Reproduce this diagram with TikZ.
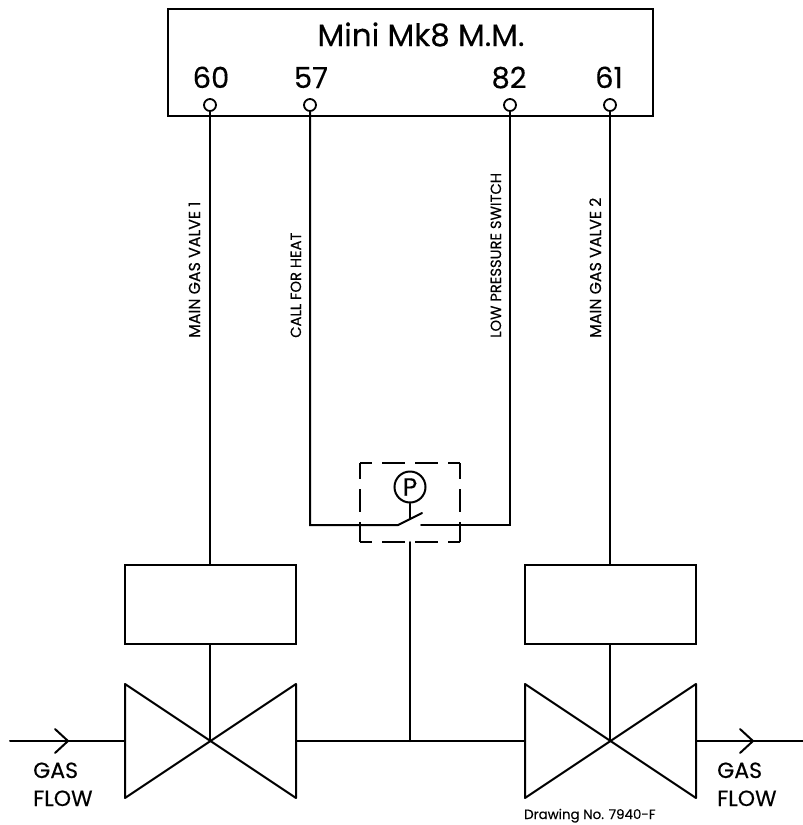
\documentclass[tikz,border=0pt]{standalone}
\usepackage{fontspec}
\setmainfont{Poppins}[FakeBold=0.3]
\tikzset{
  wire/.style={line width=2pt,line cap=round,line join=miter},
  box/.style={draw,line width=2pt,minimum width=171pt,minimum height=79pt,inner sep=0pt},
  term/.style={circle,draw,line width=1.8pt,fill=white,minimum size=12pt,inner sep=0pt},
  num/.style={font=\fontsize{29pt}{29pt}\selectfont,inner sep=0pt,anchor=base},
  vlabel/.style={font=\fontsize{14.7pt}{15pt}\selectfont,rotate=90,anchor=base west,inner sep=0pt},
  flow/.style={font=\fontsize{22pt}{22pt}\selectfont,inner sep=0pt,anchor=base west},
  dashside/.style={line width=2pt,dash pattern=on 23pt off 10pt}
}
\begin{document}
\begin{tikzpicture}[x=1pt,y=-1pt]
\useasboundingbox (0,0) rectangle (803,825);
% controller
\node[draw,line width=2pt,minimum width=485pt,minimum height=107pt,inner sep=0pt] (mm) at (410.5,62.5) {};
\node[font=\fontsize{31pt}{31pt}\selectfont,inner sep=0pt,anchor=base] (title) at (421,46) {Mini Mk8 M.M.};
\node[num] (n60) at (211,88) {60};
\node[num] (n57) at (311,88) {57};
\node[num] (n82) at (509,88) {82};
\node[num] (n61) at (609,88) {61};
\node[term] (t60) at (210,105) {};
\node[term] (t57) at (310,105) {};
\node[term] (t82) at (510,105) {};
\node[term] (t61) at (610,105) {};
% actuators and valve centres
\node[box] (actL) at (210.5,604.5) {};
\node[box] (actR) at (610.5,604.5) {};
\coordinate (vL) at (210,741);
\coordinate (vR) at (610,741);
\coordinate (tee) at (410,741);
\coordinate (swL) at (398,525);
\coordinate (swT) at (422,513);
\coordinate (swR) at (421,525);
\coordinate (swM) at (410,519);
\coordinate (inS) at (10,741);
\coordinate (outS) at (803,741);
% valves
\draw[wire,line join=round] (125,684) -- (296,798) -- (296,684) -- (125,798) -- cycle;
\draw[wire,line join=round] (525,684) -- (696,798) -- (696,684) -- (525,798) -- cycle;
% connectors
\draw[wire] (t60) -- (actL.north -| t60);
\draw[wire] (actL.south -| vL) -- (vL);
\draw[wire] (t61) -- (actR.north -| t61);
\draw[wire] (actR.south -| vR) -- (vR);
\draw[wire] (t57) |- (swL) -- (swT);
\draw[wire] (t82) |- (swR);
\draw[wire] (inS) -- (125,741);
\draw[wire] (296,741) -- (525,741);
\draw[wire] (696,741) -- (outS);
% arrows
\draw[wire] (55,729) -- (68,741) -- (55,753);
\draw[wire] (740,729) -- (753,741) -- (740,753);
% pressure switch
\node[circle,draw,line width=2pt,minimum size=31pt,inner sep=0pt,font=\fontsize{25pt}{25pt}\selectfont] (p) at (410,487) {P};
\draw[wire] (p) -- (swM);
\draw[wire] (410,542) -- (tee);
\draw[dashside,dash phase=11pt] (360,463) -- (460,463);
\draw[dashside,dash phase=11pt] (360,542) -- (460,542);
\draw[dashside,dash phase=7pt] (360,463) -- (360,542);
\draw[dashside,dash phase=7pt] (460,463) -- (460,542);
% labels
\node[vlabel,font=\fontsize{15.8pt}{16pt}\selectfont] (l1) at (200,338) {MAIN GAS VALVE 1};
\node[vlabel] (l2) at (301,338) {CALL FOR HEAT};
\node[vlabel] (l3) at (501,338) {LOW PRESSURE SWITCH};
\node[vlabel,font=\fontsize{15.8pt}{16pt}\selectfont] (l4) at (601,338) {MAIN GAS VALVE 2};
\node[flow] (g1) at (33,778) {GAS};
\node[flow] (f1) at (33,806) {FLOW};
\node[flow] (g2) at (717,778) {GAS};
\node[flow] (f2) at (717,806) {FLOW};
\node[font=\fontsize{13.4pt}{14pt}\selectfont,inner sep=0pt,anchor=base west] (dwg) at (524,819) {Drawing No. 7940-F};
\end{tikzpicture}
\end{document}
